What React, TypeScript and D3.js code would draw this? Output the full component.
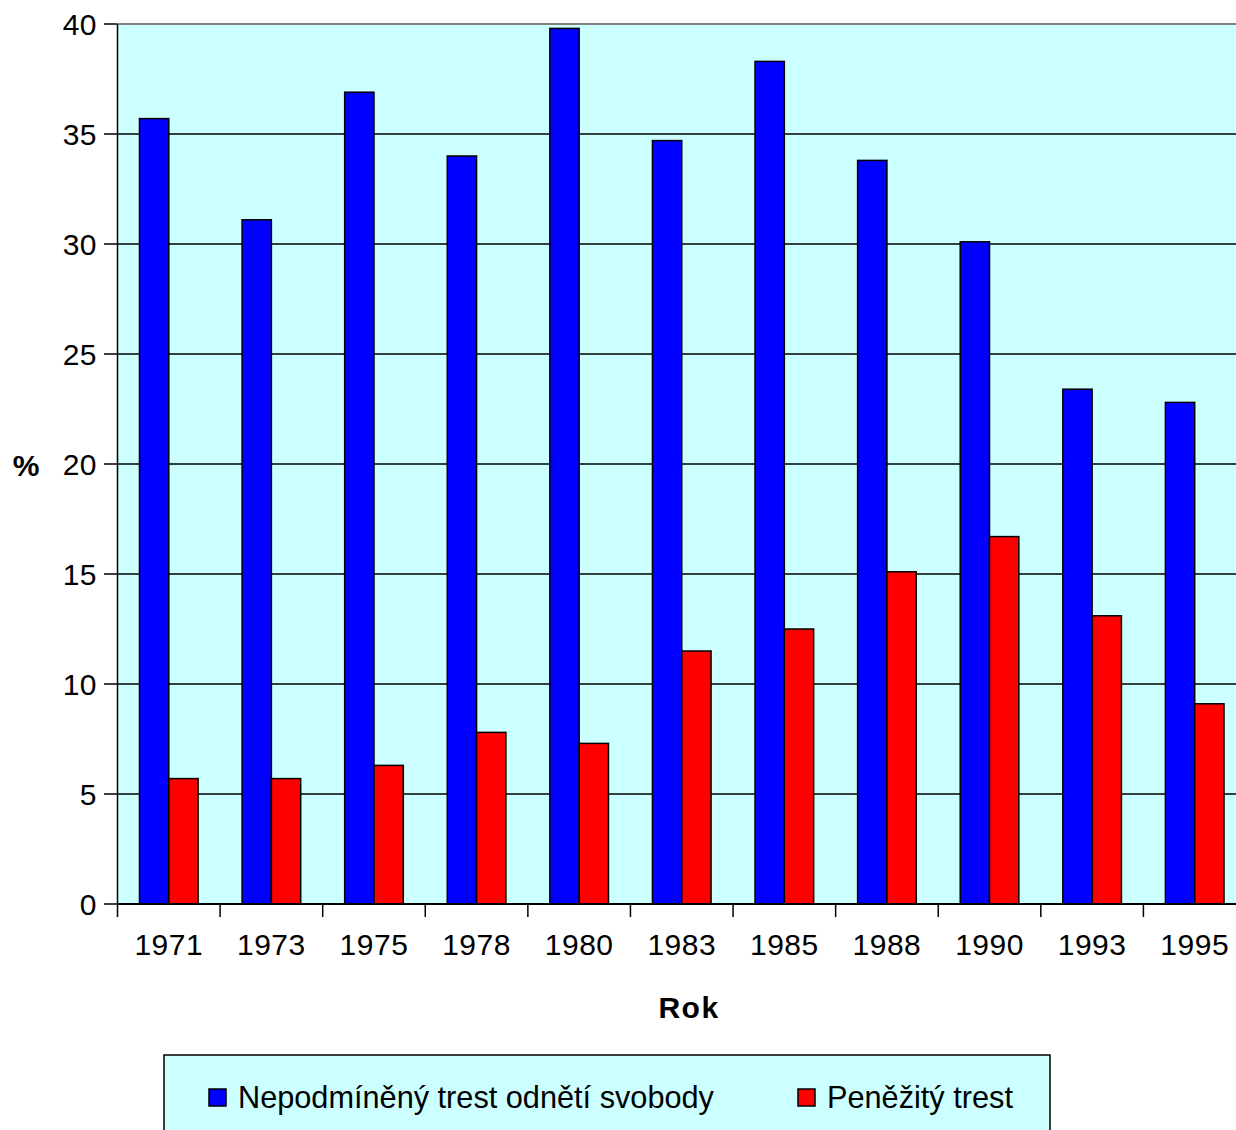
import React from "react";
import * as d3 from "d3";

const years = ["1971", "1973", "1975", "1978", "1980", "1983", "1985", "1988", "1990", "1993", "1995"];
const nepodmineny = [35.7, 31.1, 36.9, 34.0, 39.8, 34.7, 38.3, 33.8, 30.1, 23.4, 22.8];
const penezity = [5.7, 5.7, 6.3, 7.8, 7.3, 11.5, 12.5, 15.1, 16.7, 13.1, 9.1];
const yTicks = [0, 5, 10, 15, 20, 25, 30, 35, 40];
const seriesNames = ["Nepodmíněný trest odnětí svobody", "Peněžitý trest"];
const seriesColors = ["#0000FF", "#FF0000"];

export default function App() {
  const left = 117.5;
  const right = 1246;
  const top = 24;
  const bottom = 904;
  const font = "'Liberation Sans', Arial, sans-serif";

  const x = d3.scaleBand<string>().domain(years).range([left, right]).paddingInner(0).paddingOuter(0);
  const y = d3.scaleLinear().domain([0, 40]).range([bottom, top]);
  const bw = x.bandwidth() / 3.5;
  const gap = (x.bandwidth() - 2 * bw) / 2;

  return (
    <svg width={1236} height={1130} style={{ position: "absolute", left: 0, top: 0, background: "#fff" }}>
      <rect x={left} y={top} width={right - left} height={bottom - top} fill="#CCFFFF" />
      {yTicks.map((t) => (
        <g key={t}>
          {t > 0 && t < 40 && (
            <line x1={left} x2={right} y1={y(t)} y2={y(t)} stroke="#000" strokeWidth={1.5} />
          )}
          <line x1={104} x2={left} y1={y(t)} y2={y(t)} stroke="#000" strokeWidth={1.5} />
          <text x={97} y={y(t)} dy="0.36em" textAnchor="end" fontFamily={font} fontSize={30} letterSpacing={0.5} fill="#000">
            {t}
          </text>
        </g>
      ))}
      <line x1={left} x2={right} y1={top} y2={top} stroke="#808080" strokeWidth={2} />
      {years.map((yr, i) => {
        const x0 = x(yr)!;
        return (
          <g key={yr}>
            <rect x={x0 + gap} y={y(nepodmineny[i])} width={bw} height={bottom - y(nepodmineny[i])} fill={seriesColors[0]} stroke="#000" strokeWidth={1.5} />
            <rect x={x0 + gap + bw} y={y(penezity[i])} width={bw} height={bottom - y(penezity[i])} fill={seriesColors[1]} stroke="#000" strokeWidth={1.5} />
            <text x={x0 + x.bandwidth() / 2} y={955} textAnchor="middle" fontFamily={font} fontSize={30} letterSpacing={0.5} fill="#000">
              {yr}
            </text>
          </g>
        );
      })}
      {years.concat(["end"]).map((_, i) => {
        const xt = left + i * x.bandwidth();
        return <line key={i} x1={xt} x2={xt} y1={bottom} y2={917} stroke="#000" strokeWidth={1.5} />;
      })}
      <line x1={left} x2={left} y1={top} y2={bottom} stroke="#000" strokeWidth={1.5} />
      <line x1={left} x2={right} y1={bottom} y2={bottom} stroke="#000" strokeWidth={2} />
      <text x={689} y={1018} textAnchor="middle" fontFamily={font} fontSize={30} letterSpacing={1.5} fontWeight="bold" fill="#000">
        Rok
      </text>
      <text x={26} y={476} textAnchor="middle" fontFamily={font} fontSize={30} fontWeight="bold" fill="#000">
        %
      </text>
      <rect x={164} y={1055} width={886} height={100} fill="#CCFFFF" stroke="#000" strokeWidth={1.5} />
      <rect x={209} y={1089} width={17} height={17} fill={seriesColors[0]} stroke="#000" strokeWidth={1.5} />
      <text x={238} y={1108} fontFamily={font} fontSize={30.7} fill="#000">{seriesNames[0]}</text>
      <rect x={798} y={1089} width={17} height={17} fill={seriesColors[1]} stroke="#000" strokeWidth={1.5} />
      <text x={827} y={1108} fontFamily={font} fontSize={30.7} fill="#000">{seriesNames[1]}</text>
    </svg>
  );
}
